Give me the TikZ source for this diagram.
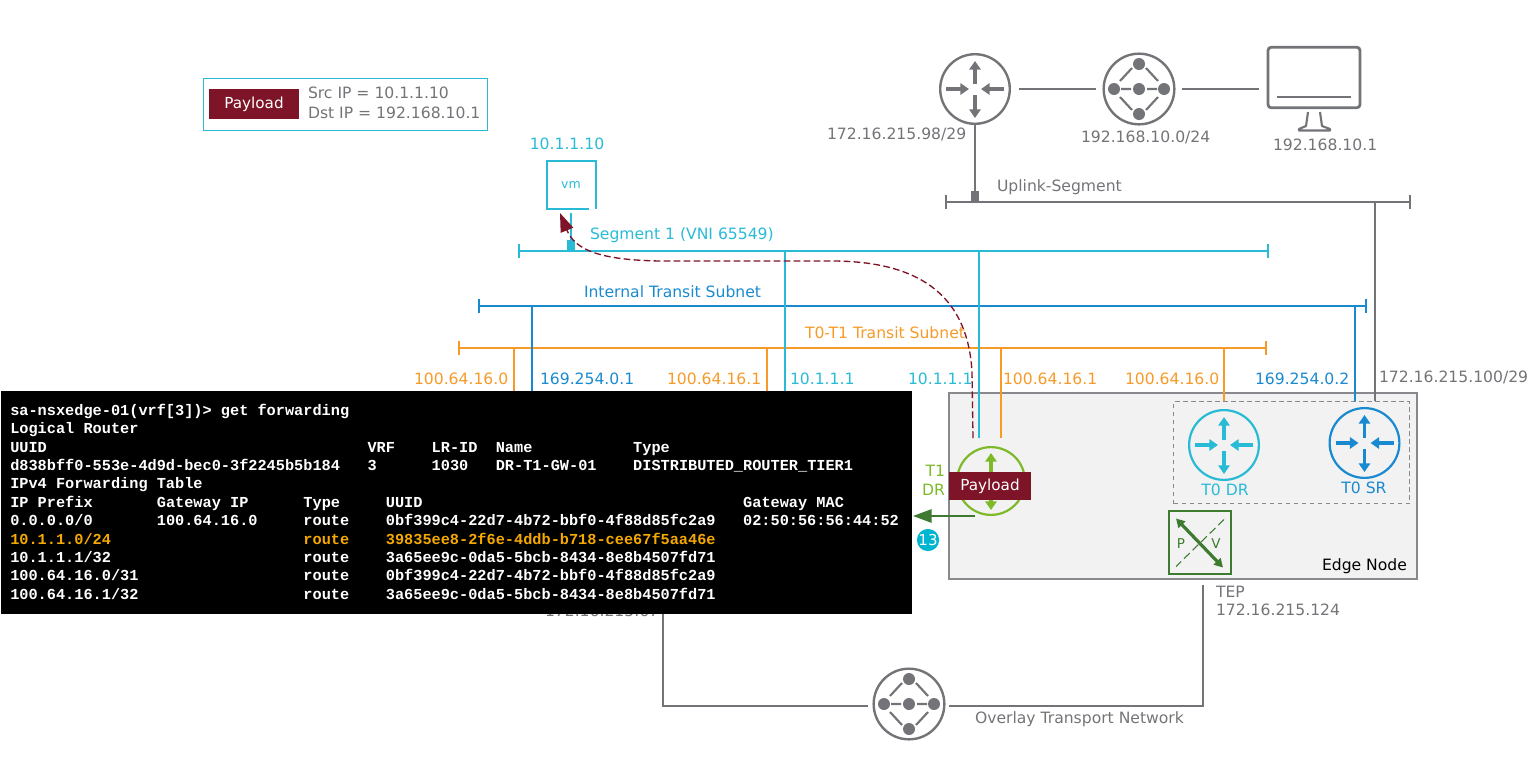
\documentclass[tikz,border=0pt]{standalone}
\usepackage{fontspec}
\setmainfont{DejaVu Sans}
\newfontfamily\termfont{Liberation Mono}
\usetikzlibrary{arrows.meta}
\definecolor{cCy}{HTML}{29BBD6}
\definecolor{cBl}{HTML}{1A8AD0}
\definecolor{cOr}{HTML}{F79A27}
\definecolor{cGy}{HTML}{737478}
\definecolor{cMr}{HTML}{7E1428}
\definecolor{cLg}{HTML}{7DB928}
\definecolor{cDg}{HTML}{3E7B30}
\definecolor{cTo}{HTML}{F5A800}
\definecolor{cBg}{HTML}{F2F2F2}
\definecolor{cBd}{HTML}{00B5D1}
\newcommand{\fpx}[1]{\pgfmathsetmacro\myfs{#1*0.75}\fontsize{\myfs}{\myfs}\selectfont}
\newcommand{\routericon}[6]{% name x y r color lw
  \node[circle,draw=#5,line width=#6*0.75pt,minimum size=2*#4*0.75pt-#6*0.75pt,inner sep=0pt] (#1) at (#2,#3) {};
  \begin{scope}[shift={(#2,#3)},line width=2.8pt]
    \draw[-{Triangle[length=6.5pt,width=8.5pt]},#5] (0,-5) -- (0,-28);
    \draw[-{Triangle[length=6.5pt,width=8.5pt]},#5] (0,6) -- (0,29);
    \draw[-{Triangle[length=6.5pt,width=8.5pt]},#5] (-29,0) -- (-6,0);
    \draw[-{Triangle[length=6.5pt,width=8.5pt]},#5] (29,0) -- (6,0);
  \end{scope}}
\newcommand{\switchicon}[3]{% name x y
  \node[circle,draw=cGy,line width=1.8pt,minimum size=53pt,inner sep=0pt] (#1) at (#2,#3) {};
  \begin{scope}[shift={(#2,#3)}]
    \fill[cGy] (0,-25) circle[radius=6] (0,25) circle[radius=6] (-25,0) circle[radius=6] (25,0) circle[radius=6] (0,0) circle[radius=6];
    \draw[cGy,line width=1.6pt] (-19,-8) -- (-7,-21) (19,-8) -- (7,-21) (-19,8) -- (-7,21) (19,8) -- (7,21) (-18,0) -- (-8,0) (8,0) -- (18,0);
  \end{scope}}
\tikzset{
  lbl/.style={inner sep=0pt,outer sep=0pt,font=\fpx{15.6},anchor=base west},
  lblr/.style={lbl,anchor=base east},
  lblc/.style={lbl,anchor=base},
  bus/.style={line width=2.1pt},
  term/.style={inner sep=0pt,anchor=base west,font=\termfont\bfseries\fontsize{11.45}{14}\selectfont,white},
  pay/.style={fill=cMr,text=white,font=\fpx{15.2},inner sep=0pt},
}
\begin{document}
\begin{tikzpicture}[x=0.75pt,y=-0.75pt]
\useasboundingbox (0,0) rectangle (1536,758);
% legend
\node[draw=cCy,line width=0.7pt,minimum width=213pt,minimum height=39pt,inner sep=0pt] (legend) at (345,104) {};
\node[pay,minimum width=67.5pt,minimum height=22.5pt] (legendpay) at (254,104) {Payload};
\node[lbl,cGy] (src) at (308,98) {Src IP = 10.1.1.10};
\node[lbl,cGy] (dst) at (308,118) {Dst IP = 192.168.10.1};
% top icons
\routericon{rtop}{975}{89}{36}{cGy}{2.4}
\switchicon{swtop}{1139}{89}
\node[draw=cGy,line width=2.1pt,rounded corners=2.5pt,minimum width=69pt,minimum height=45.5pt,inner sep=0pt] (mon) at (1314,77.5) {};
\draw[cGy,line width=1.9pt] (1277,97) -- (1351,97);
\draw[cGy,line width=1.6pt,fill=white,line join=round] (1308,112) -- (1306,126) -- (1299,129) -- (1299,130.5) -- (1330,130.5) -- (1330,129) -- (1322,126) -- (1320,112);
\coordinate (rtopE) at (1019,89); \coordinate (swW) at (1096,89);
\coordinate (swE) at (1182,89); \coordinate (monW) at (1259,89);
\draw[cGy,line width=2.1pt] (rtopE) -- (swW);
\draw[cGy,line width=2.1pt] (swE) -- (monW);
\node[lbl,cGy] (l98) at (827,139) {172.16.215.98/29};
\node[lbl,cGy] (l192n) at (1081,142) {192.168.10.0/24};
\node[lbl,cGy] (l192h) at (1273,150) {192.168.10.1};
% buses
\coordinate (upL) at (946,202); \coordinate (upR) at (1410,202);
\coordinate (sgL) at (519,251); \coordinate (sgR) at (1268,251);
\coordinate (inL) at (479,306); \coordinate (inR) at (1366,306);
\coordinate (ttL) at (459,348); \coordinate (ttR) at (1266,348);
\draw[cGy,bus] (upL) -- (upR);
\draw[cGy,bus] ([yshift=-5.2pt]upL) -- ([yshift=5.2pt]upL) ([yshift=-5.2pt]upR) -- ([yshift=5.2pt]upR);
\draw[cCy,bus] (sgL) -- (sgR);
\draw[cCy,bus] ([yshift=-5.2pt]sgL) -- ([yshift=5.2pt]sgL) ([yshift=-5.2pt]sgR) -- ([yshift=5.2pt]sgR);
\draw[cBl,bus] (inL) -- (inR);
\draw[cBl,bus] ([yshift=-5.2pt]inL) -- ([yshift=5.2pt]inL) ([yshift=-5.2pt]inR) -- ([yshift=5.2pt]inR);
\draw[cOr,bus] (ttL) -- (ttR);
\draw[cOr,bus] ([yshift=-5.2pt]ttL) -- ([yshift=5.2pt]ttL) ([yshift=-5.2pt]ttR) -- ([yshift=5.2pt]ttR);
\node[lbl,cCy] (lsg) at (590,239) {Segment 1 (VNI 65549)};
\node[lbl,cBl] (lin) at (584,297) {Internal Transit Subnet};
\node[lbl,cOr] (ltt) at (805,338) {T0-T1 Transit Subnet};
\node[lbl,cGy] (lup) at (997,191) {Uplink-Segment};
% edge node
\node[draw=cGy!85!white,fill=cBg,line width=1.5pt,minimum width=351.5pt,minimum height=140pt,inner sep=0pt] (edge) at (1183,486) {};
\node[draw=cGy!85!white,line width=1.1pt,dash pattern=on 3.5pt off 2.5pt,minimum width=177pt,minimum height=76.5pt,inner sep=0pt] (tier0) at (1291.5,452.5) {};
% drops
\draw[cGy,bus] (rtop.south) -- (rtop.south|-upL);
\fill[cGy] (971,191) rectangle (979,202);
\draw[cCy,bus] (785,251) coordinate (d1) -- (785,392) coordinate (d1e);
\draw[cCy,bus] (979,251) coordinate (d2) -- (979,438) coordinate (d2e);
\draw[cOr,bus] (1001,348) coordinate (d3) -- (1001,438) coordinate (d3e);
\draw[cBl,bus] (532,306) coordinate (d4) -- (532,392) coordinate (d4e);
\draw[cOr,bus] (514,348) coordinate (d5) -- (514,392) coordinate (d5e);
\draw[cOr,bus] (767,348) coordinate (d6) -- (767,392) coordinate (d6e);
\draw[cOr,bus] (1224,348) coordinate (d7) -- (1224,401) coordinate (d7e);
\draw[cBl,bus] (1355,306) coordinate (d8) -- (1355,401) coordinate (d8e);
\draw[cGy,bus] (1375,202) coordinate (d9) -- (1375,401) coordinate (d9e);
% vm
\node[lblc,cCy] (lvmip) at (567,149) {10.1.1.10};
\coordinate (vmA) at (589,209); \coordinate (vmB) at (547,209); \coordinate (vmC) at (547,161); \coordinate (vmD) at (596,161); \coordinate (vmE) at (596,209);
\draw[cCy,line width=0.9pt] (vmA) -- (vmB) -- (vmC) -- (vmD) -- (vmE);
\node[cCy,font=\fpx{12.5},inner sep=0pt] (vm) at (571,185) {vm};
\coordinate (vmS) at (571,213);
\draw[cCy,bus] (vmS) -- (vmS|-sgL);
\fill[cCy] (567,240) rectangle (575,251);
% hidden label behind terminal
\node[lbl,cGy] (lhid) at (545,616) {172.16.215.67};
% underlay
\coordinate (ulA) at (663,614); \coordinate (ulB) at (663,706); \coordinate (ulC) at (868,706);
\coordinate (urA) at (949,706); \coordinate (urB) at (1203,706); \coordinate (urC) at (1203,585);
\draw[cGy,line width=1.2pt] (ulA) -- (ulB) -- (ulC);
\draw[cGy,line width=1.2pt] (urA) -- (urB) -- (urC);
\switchicon{swbot}{909}{704}
\node[lbl,cGy] (lov) at (975,723) {Overlay Transport Network};
\node[lbl,cGy] (ltep) at (1216,597) {TEP};
\node[lbl,cGy] (ltepip) at (1216,615) {172.16.215.124};
% ip labels
\node[lbl,cOr] (i1) at (414,384) {100.64.16.0};
\node[lbl,cBl] (i2) at (540,384) {169.254.0.1};
\node[lbl,cOr] (i3) at (667,384) {100.64.16.1};
\node[lbl,cCy] (i4) at (790,384) {10.1.1.1};
\node[lbl,cCy] (i5) at (908,384) {10.1.1.1};
\node[lbl,cOr] (i6) at (1003,384) {100.64.16.1};
\node[lbl,cOr] (i7) at (1125,384) {100.64.16.0};
\node[lbl,cBl] (i8) at (1255,384) {169.254.0.2};
\node[lbl,cGy] (i9) at (1379,382) {172.16.215.100/29};
% routers in edge
\routericon{t0dr}{1224}{445}{36}{cCy}{2.2}
\routericon{t0sr}{1364.5}{443}{36}{cBl}{2.2}
\node[lblc,cCy] (lt0dr) at (1225,495) {T0 DR};
\node[lblc,cBl] (lt0sr) at (1364,493) {T0 SR};
\routericon{t1dr}{991}{481}{35}{cLg}{2.2}
\node[lblr,cLg] (lt1) at (945,476) {T1};
\node[lblr,cLg] (ldr) at (945,495) {DR};
\node[pay,minimum width=61.5pt,minimum height=21pt] (edgepay) at (990,486) {Payload};
% P/V
\node[draw=cDg,line width=1.7pt,minimum width=46.5pt,minimum height=47pt,inner sep=0pt] (pv) at (1200,542.5) {};
\draw[cDg,line width=0.8pt,dash pattern=on 6pt off 3pt] (pv.center)+(24,-23) -- +(-24,24);
\draw[cDg,line width=2.4pt,{Triangle[length=6.5pt,width=7pt]}-{Triangle[length=6.5pt,width=7pt]}] (pv.center)+(-24,-24) -- +(23,25);
\node[cDg,font=\fpx{13.5},inner sep=0pt] (lp) at (1181,544) {P};
\node[cDg,font=\fpx{13.5},inner sep=0pt] (lv) at (1216,544) {V};
\node[lbl,black] (len) at (1322,570) {Edge Node};
% packet path
\coordinate (pS) at (973,438); \coordinate (pE) at (560,213);
\draw[cMr,line width=1pt,dash pattern=on 5pt off 2.5pt,-{Triangle[length=14pt,width=10pt]}] (pS) -- (972,372) .. controls (968,300) and (925,262) .. (835,261) -- (660,261) .. controls (600,260) and (575,250) .. (pE);
% terminal
\node[fill=black,minimum width=683.25pt,minimum height=167.25pt,inner sep=0pt,anchor=north west] (terminal) at (1,391) {};
\node[term] (t1) at (10,415) {sa-nsxedge-01(vrf[3])>~get~forwarding};
\node[term] (t2) at (10,433) {Logical~Router};
\node[term] (t3) at (10,452) {UUID~~~~~~~~~~~~~~~~~~~~~~~~~~~~~~~~~~~VRF~~~~LR-ID~~Name~~~~~~~~~~~Type};
\node[term] (t4) at (10,470) {d838bff0-553e-4d9d-bec0-3f2245b5b184~~~3~~~~~~1030~~~DR-T1-GW-01~~~~DISTRIBUTED\_ROUTER\_TIER1};
\node[term] (t5) at (10,488) {IPv4~Forwarding~Table};
\node[term] (t6) at (10,507) {IP~Prefix~~~~~~~Gateway~IP~~~~~~Type~~~~~UUID~~~~~~~~~~~~~~~~~~~~~~~~~~~~~~~~~~~Gateway~MAC};
\node[term] (t7) at (10,525) {0.0.0.0/0~~~~~~~100.64.16.0~~~~~route~~~~0bf399c4-22d7-4b72-bbf0-4f88d85fc2a9~~~02:50:56:56:44:52};
\node[term,text=cTo] (t8) at (10,544) {10.1.1.0/24~~~~~~~~~~~~~~~~~~~~~route~~~~39835ee8-2f6e-4ddb-b718-cee67f5aa46e};
\node[term] (t9) at (10,562) {10.1.1.1/32~~~~~~~~~~~~~~~~~~~~~route~~~~3a65ee9c-0da5-5bcb-8434-8e8b4507fd71};
\node[term] (t10) at (10,580) {100.64.16.0/31~~~~~~~~~~~~~~~~~~route~~~~0bf399c4-22d7-4b72-bbf0-4f88d85fc2a9};
\node[term] (t11) at (10,599) {100.64.16.1/32~~~~~~~~~~~~~~~~~~route~~~~3a65ee9c-0da5-5bcb-8434-8e8b4507fd71};
% egress arrow + badge
\coordinate (egS) at (975,516); \coordinate (egE) at (913,516);
\draw[cDg,line width=1.5pt,-{Triangle[length=14pt,width=10pt]}] (egS) -- (egE);
\node[circle,fill=cBd,minimum size=15pt,inner sep=0pt,text=white,font=\fpx{15}] (badge) at (928,540) {13};
\end{tikzpicture}
\end{document}
